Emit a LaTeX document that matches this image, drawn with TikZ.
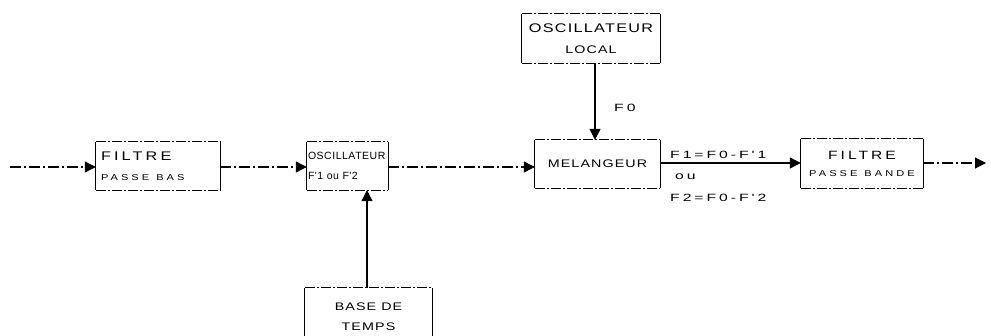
\documentclass[tikz,border=0pt]{standalone}
\usepackage{fontspec}
\setmainfont{Liberation Sans}
% wide plotter-like lettering: stretched glyphs with extra tracking
\newfontfamily\wdA[FakeStretch=1.3,LetterSpace=10]{Liberation Sans}
\newfontfamily\wdB[FakeStretch=1.3,LetterSpace=25]{Liberation Sans}
\newfontfamily\wdC[FakeStretch=1.3,LetterSpace=36]{Liberation Sans}
\newfontfamily\wdD[FakeStretch=1.5,LetterSpace=28]{Liberation Sans}
\newfontfamily\nrA[LetterSpace=5]{Liberation Sans}
\usetikzlibrary{arrows.meta}
\tikzset{
  blk/.style={rectangle, inner sep=0pt, align=center},
  tb/.style={line width=1.1pt, dash pattern=on 10pt off 2pt on 2pt off 2pt},
  sd/.style={line width=1.2pt},
  link/.style={line width=1.1pt, -{Triangle[length=11pt,width=11pt]}},
  dlink/.style={link, dash pattern=on 11pt off 3pt on 2pt off 3pt},
  lbl/.style={font=\wdD\fontsize{10.5}{13}\selectfont, inner sep=0pt}
}
\newcommand\blockframe[1]{%
  \draw[tb] (#1.north west) -- (#1.north east);
  \draw[tb] (#1.south west) -- (#1.south east);
  \draw[sd] (#1.north west) -- (#1.south west);
  \draw[sd] (#1.north east) -- (#1.south east);}
\begin{document}
\begin{tikzpicture}[x=1pt,y=-1pt]
\useasboundingbox (0,0) rectangle (991,335);
\clip (0,0) rectangle (991,335);

% blocks of the chain
\node[blk, minimum width=124, minimum height=48, text width=114, align=left,
      font=\wdB\fontsize{12.5}{20}\selectfont] (fpb) at (158,166)
  {FILTRE\\{\wdC\fontsize{8.5}{20}\selectfont PASSE\hspace*{7pt}BAS}};
\node[blk, minimum width=81, minimum height=48, text width=79, align=left,
      font=\nrA\fontsize{10.5}{20}\selectfont] (osc) at (347.5,166)
  {OSCILLATEUR\\F'1 ou F'2};
\node[blk, minimum width=125, minimum height=48,
      font=\wdA\fontsize{11}{13}\selectfont] (mel) at (597.5,164) {MELANGEUR};
\node[blk, minimum width=122, minimum height=49,
      font=\wdB\fontsize{12}{17}\selectfont] (fpd) at (862,163.5)
  {FILTRE\\{\wdC\fontsize{8.5}{17}\selectfont PASSE\hspace*{7pt}BANDE}};
\node[blk, minimum width=138, minimum height=49,
      font=\wdA\fontsize{12.5}{21}\selectfont] (ol) at (591,38.5)
  {OSCILLATEUR\\{\fontsize{11}{21}\selectfont LOCAL}};
\node[blk, minimum width=127, minimum height=58,
      font=\wdA\fontsize{11}{20}\selectfont] (bt) at (368.5,317)
  {BASE DE\\TEMPS};
\foreach \b in {fpb,osc,mel,fpd,ol,bt} {\blockframe{\b}}

% signal path
\coordinate (in) at (10,167);
\coordinate (out) at (986,163);
\draw[dlink] (in) -- (fpb.west |- in);
\draw[dlink] (fpb.east |- in) -- (osc.west |- in);
\draw[dlink] (osc.east |- in) -- (mel.west |- in);
\draw[link] (mel.east |- out) -- (fpd.west |- out);
\draw[dlink] (fpd.east |- out) -- (out);
\draw[link] (ol.south -| 595,0) -- (mel.north -| 595,0);
\draw[link] (bt.north -| 367,0) -- (osc.south -| 367,0);

% frequency labels
\node[lbl, anchor=west] (f0) at (614,108) {F0};
\node[lbl, anchor=west] (f1) at (670,155) {F1=F0-F'1};
\node[lbl, anchor=west] (ou) at (675,177) {ou};
\node[lbl, anchor=west] (f2) at (670,198) {F2=F0-F'2};
\end{tikzpicture}
\end{document}
